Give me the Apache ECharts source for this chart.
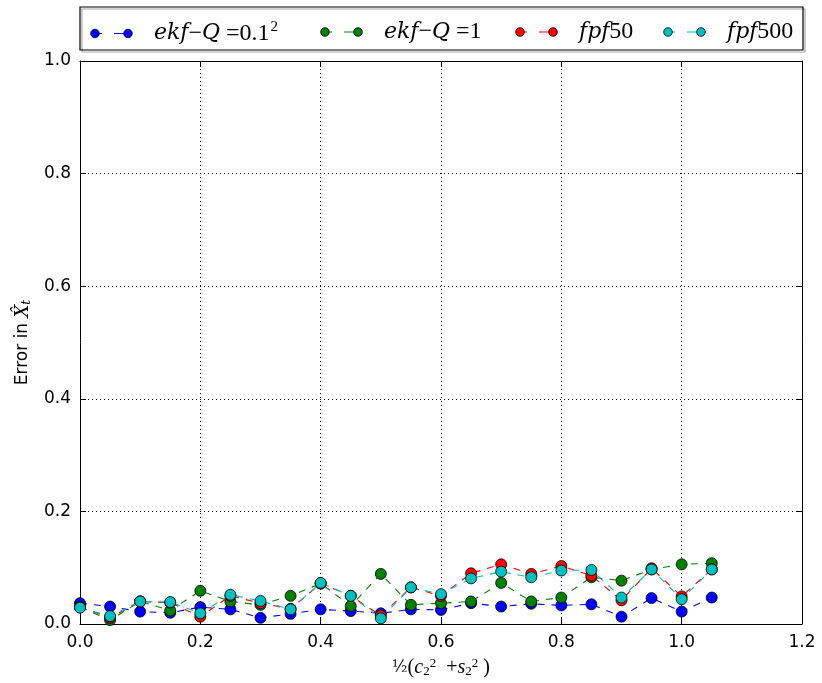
<!DOCTYPE html>
<html>
<head>
<meta charset="utf-8">
<script src="https://cdn.jsdelivr.net/npm/echarts@6/dist/echarts.min.js"></script>
<style>html,body{margin:0;padding:0;background:#fff;}#c{width:822px;height:683px;}</style>
</head>
<body>
<div id="c"></div>
<script>
// ---- data ----
const xs = [0.0, 0.05, 0.1, 0.15, 0.2, 0.25, 0.3, 0.35, 0.4, 0.45, 0.5, 0.55, 0.6, 0.65, 0.7, 0.75, 0.8, 0.85, 0.9, 0.95, 1.0, 1.05];
const ekfSmall = [0.037, 0.031, 0.022, 0.020, 0.030, 0.026, 0.011, 0.018, 0.026, 0.023, 0.019, 0.026, 0.025, 0.037, 0.031, 0.036, 0.033, 0.035, 0.013, 0.046, 0.022, 0.047];
const ekfOne = [0.030, 0.007, 0.040, 0.024, 0.059, 0.040, 0.034, 0.050, 0.072, 0.032, 0.089, 0.034, 0.037, 0.040, 0.073, 0.040, 0.047, 0.083, 0.077, 0.097, 0.106, 0.108];
const fpf50 = [0.030, 0.011, 0.040, 0.038, 0.013, 0.050, 0.037, 0.027, 0.072, 0.050, 0.015, 0.065, 0.050, 0.090, 0.106, 0.089, 0.103, 0.086, 0.042, 0.099, 0.049, 0.097];
const fpf500 = [0.029, 0.014, 0.040, 0.039, 0.019, 0.052, 0.041, 0.026, 0.073, 0.050, 0.010, 0.065, 0.053, 0.081, 0.093, 0.083, 0.095, 0.096, 0.047, 0.097, 0.044, 0.097];
const seriesNames = ['ekf-Q=0.1^2', 'ekf-Q=1', 'fpf50', 'fpf500'];
const seriesColors = ['#0000ff', '#008000', '#ff0000', '#00bfbf'];
const seriesValues = [ekfSmall, ekfOne, fpf50, fpf500];
const xTicks = {min: 0, max: 1.2, interval: 0.2};
const yTicks = {min: 0, max: 1.0, interval: 0.2};

// ---- build ----
const legendText = {
  'ekf-Q=0.1^2': '{i|ekf}{n|−}{i|Q}{n| =0.1}{sup|2}',
  'ekf-Q=1': '{i|ekf}{n|−}{i|Q}{n| =1}',
  'fpf50': '{i|fpf}{n|50}',
  'fpf500': '{i|fpf}{n|500}'
};
function legendIcon(color) {
  const svg = '<svg xmlns="http://www.w3.org/2000/svg" width="60" height="12">' +
    '<line x1="6" y1="6" x2="39" y2="6" stroke="' + color + '" stroke-width="1.2" stroke-dasharray="7,12,20"/>' +
    '<circle cx="6" cy="6" r="4.3" fill="' + color + '" stroke="#000" stroke-width="0.8"/>' +
    '<circle cx="39" cy="6" r="4.3" fill="' + color + '" stroke="#000" stroke-width="0.8"/>' +
    '</svg>';
  return 'image://data:image/svg+xml;charset=utf-8,' + encodeURIComponent(svg);
}
const legendLefts = [89, 319, 514, 662];
const richLegend = {
  i: {fontFamily: 'DejaVu Serif', fontStyle: 'italic', fontSize: 22, color: '#000'},
  n: {fontFamily: 'Liberation Serif', fontSize: 24, color: '#000'},
  sup: {fontFamily: 'Liberation Serif', fontSize: 15, color: '#000', verticalAlign: 'top', padding: [0, 0, 12, 1]}
};
const legends = seriesNames.map((n, k) => ({
  data: [{name: n, icon: legendIcon(seriesColors[k])}],
  left: legendLefts[k], top: 20, padding: 0,
  itemWidth: 60, itemHeight: 12, itemGap: 0,
  selectedMode: false,
  formatter: name => legendText[name],
  textStyle: {rich: richLegend, fontFamily: 'Liberation Serif', fontSize: 24, color: '#000'}
}));

const series = seriesNames.map((n, k) => ({
  name: n, type: 'line',
  xAxisIndex: 0, yAxisIndex: 0,
  data: xs.map((x, j) => [x, seriesValues[k][j]]),
  symbol: 'circle', symbolSize: 11,
  lineStyle: {color: seriesColors[k], width: 1.1, type: [7, 7]},
  itemStyle: {color: seriesColors[k], borderColor: '#000', borderWidth: 0.8},
  emphasis: {disabled: true},
  animation: false
}));

const labelFont = {fontFamily: 'DejaVu Sans', fontSize: 17, color: '#000'};
const chart = echarts.init(document.getElementById('c'), null, {renderer: 'canvas'});
chart.setOption({
  backgroundColor: '#fff',
  animation: false,
  grid: {left: 80, right: 20, top: 61, bottom: 59, containLabel: false},
  legend: legends,
  graphic: [{
    type: 'rect', shape: {x: 80, y: 7, width: 723, height: 43},
    style: {fill: 'none', stroke: '#000', lineWidth: 1.2, shadowColor: 'rgba(0,0,0,0.35)', shadowOffsetX: 2, shadowOffsetY: 2, shadowBlur: 0},
    z: 100, silent: true
  }],
  xAxis: [{
    type: 'value', min: xTicks.min, max: xTicks.max, interval: xTicks.interval,
    position: 'bottom',
    axisLine: {show: true, onZero: false, lineStyle: {color: '#000', width: 1}},
    axisTick: {show: true, inside: true, length: 6, lineStyle: {color: '#000'}},
    axisLabel: Object.assign({margin: 10, formatter: v => v.toFixed(1)}, labelFont),
    splitLine: {show: true, lineStyle: {color: '#000', type: [1, 3], width: 1}},
    name: '{fr|½}{n|(}{i|c}{sb|2}{sp|2}{n|  +}{i|s}{sb|2}{sp|2}{n| )}',
    nameLocation: 'middle', nameGap: 33,
    nameTextStyle: {rich: {
      fr: {fontFamily: 'DejaVu Serif', fontSize: 16, color: '#000'},
      n: {fontFamily: 'Liberation Serif', fontSize: 20, color: '#000'},
      i: {fontFamily: 'Liberation Serif', fontStyle: 'italic', fontSize: 20, color: '#000'},
      sb: {fontFamily: 'Liberation Serif', fontSize: 13, color: '#000', verticalAlign: 'bottom', padding: [8, 0, 0, 0]},
      sp: {fontFamily: 'Liberation Serif', fontSize: 13, color: '#000', verticalAlign: 'top', padding: [0, 0, 8, 0]}
    }}
  }, {
    type: 'value', min: xTicks.min, max: xTicks.max, interval: xTicks.interval,
    position: 'top',
    axisLine: {show: true, onZero: false, lineStyle: {color: '#000', width: 1}},
    axisTick: {show: true, inside: true, length: 6, lineStyle: {color: '#000'}},
    axisLabel: {show: false}, splitLine: {show: false}
  }],
  yAxis: [{
    type: 'value', min: yTicks.min, max: yTicks.max, interval: yTicks.interval,
    position: 'left',
    axisLine: {show: true, onZero: false, lineStyle: {color: '#000', width: 1}},
    axisTick: {show: true, inside: true, length: 6, lineStyle: {color: '#000'}},
    axisLabel: Object.assign({margin: 9, formatter: v => v.toFixed(1)}, labelFont),
    splitLine: {show: true, lineStyle: {color: '#000', type: [1, 3], width: 1}},
    name: '{n|Error in }{i|X̂}{sub|t}',
    nameLocation: 'middle', nameGap: 37,
    nameTextStyle: {rich: {
      n: {fontFamily: 'DejaVu Sans', fontSize: 17, color: '#000'},
      i: {fontFamily: 'DejaVu Serif', fontStyle: 'italic', fontSize: 18, color: '#000'},
      sub: {fontFamily: 'DejaVu Serif', fontStyle: 'italic', fontSize: 12, color: '#000', verticalAlign: 'bottom', padding: [8, 0, 0, 0]}
    }}
  }, {
    type: 'value', min: yTicks.min, max: yTicks.max, interval: yTicks.interval,
    position: 'right',
    axisLine: {show: true, onZero: false, lineStyle: {color: '#000', width: 1}},
    axisTick: {show: true, inside: true, length: 6, lineStyle: {color: '#000'}},
    axisLabel: {show: false}, splitLine: {show: false}
  }],
  series: series
});
</script>
</body>
</html>
